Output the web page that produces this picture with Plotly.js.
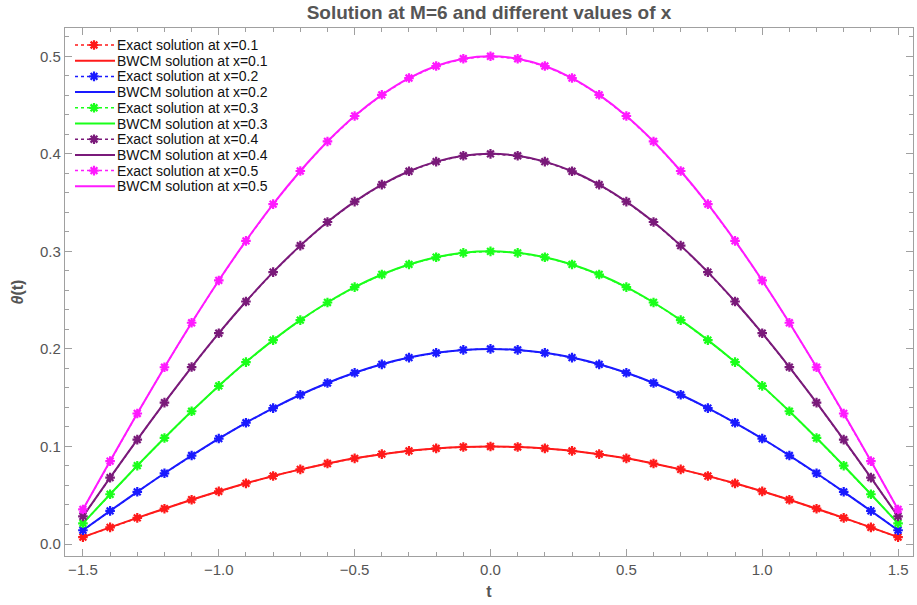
<!DOCTYPE html>
<html>
<head>
<meta charset="utf-8">
<script src="https://cdn.plot.ly/plotly-3.0.1.min.js"></script>
<style>
  html, body { margin: 0; padding: 0; background: #fff; }
  #chart { width: 917px; height: 605px; }
</style>
</head>
<body>
<div id="chart"></div>
<script>
// Time grid shared by all series
const tGrid = [-1.5,-1.4,-1.3,-1.2,-1.1,-1.0,-0.9,-0.8,-0.7,-0.6,-0.5,-0.4,-0.3,-0.2,-0.1,0.0,
               0.1,0.2,0.3,0.4,0.5,0.6,0.7,0.8,0.9,1.0,1.1,1.2,1.3,1.4,1.5];

// θ(t) values for each x
const thetaX01 = [0.0071,0.0170,0.0268,0.0362,0.0454,0.0540,0.0622,0.0697,0.0765,0.0825,0.0878,0.0921,0.0955,0.0980,0.0995,0.1000,
                  0.0995,0.0980,0.0955,0.0921,0.0878,0.0825,0.0765,0.0697,0.0622,0.0540,0.0454,0.0362,0.0268,0.0170,0.0071];
const thetaX02 = [0.0141,0.0340,0.0535,0.0725,0.0907,0.1081,0.1243,0.1393,0.1530,0.1651,0.1755,0.1842,0.1911,0.1960,0.1990,0.2000,
                  0.1990,0.1960,0.1911,0.1842,0.1755,0.1651,0.1530,0.1393,0.1243,0.1081,0.0907,0.0725,0.0535,0.0340,0.0141];
const thetaX03 = [0.0212,0.0510,0.0803,0.1087,0.1361,0.1621,0.1865,0.2090,0.2295,0.2476,0.2633,0.2763,0.2866,0.2940,0.2985,0.3000,
                  0.2985,0.2940,0.2866,0.2763,0.2633,0.2476,0.2295,0.2090,0.1865,0.1621,0.1361,0.1087,0.0803,0.0510,0.0212];
const thetaX04 = [0.0283,0.0680,0.1070,0.1449,0.1814,0.2161,0.2486,0.2787,0.3059,0.3301,0.3510,0.3684,0.3821,0.3920,0.3980,0.4000,
                  0.3980,0.3920,0.3821,0.3684,0.3510,0.3301,0.3059,0.2787,0.2486,0.2161,0.1814,0.1449,0.1070,0.0680,0.0283];
const thetaX05 = [0.0354,0.0850,0.1338,0.1812,0.2268,0.2702,0.3108,0.3484,0.3824,0.4127,0.4388,0.4605,0.4777,0.4900,0.4975,0.5000,
                  0.4975,0.4900,0.4777,0.4605,0.4388,0.4127,0.3824,0.3484,0.3108,0.2702,0.2268,0.1812,0.1338,0.0850,0.0354];

const xLabels = ['0.1', '0.2', '0.3', '0.4', '0.5'];
const seriesValues = [thetaX01, thetaX02, thetaX03, thetaX04, thetaX05];
const seriesColors = ['#ff1a1a', '#1a1aff', '#1aff1a', '#7a1a7a', '#ff1aff'];

const MARKER_SIZE = 8;

const traces = [];
seriesValues.forEach((vals, i) => {
  const c = seriesColors[i];
  traces.push({
    x: tGrid, y: vals, type: 'scatter', mode: 'lines',
    name: 'BWCM solution at x=' + xLabels[i],
    line: { color: c, width: 2, shape: 'spline', smoothing: 0.6 },
    hoverinfo: 'skip'
  });
  traces.push({
    x: tGrid, y: vals, type: 'scatter', mode: 'lines+markers',
    name: 'Exact solution at x=' + xLabels[i],
    line: { color: c, width: 1.5, dash: 'dot' },
    marker: { symbol: 'asterisk-open', size: MARKER_SIZE, color: c, line: { color: c, width: 2.2 } },
    hoverinfo: 'skip'
  });
});

// Compact key in the upper-left corner of the plot area (pixel layout -> paper coords)
const plotL = 65, plotR = 913, plotT = 28, plotB = 556;
const toPaperX = px => (px - plotL) / (plotR - plotL);
const toPaperY = py => (plotB - py) / (plotB - plotT);
const keyTop = 45, keyStep = 15.7, keyLineL = 75, keyLineR = 115, keyMarkX = 94, keyTextX = 116;

const rs = MARKER_SIZE / 2 * 1.2, rt = MARKER_SIZE / 2 * 0.85;
const starPath = `M0,${rs}V${-rs}M${rs},0H${-rs}M${rt},${rt}L${-rt},${-rt}M${rt},${-rt}L${-rt},${rt}`;

const shapes = [];
const annotations = [];
seriesValues.forEach((vals, i) => {
  const c = seriesColors[i];
  const yExact = keyTop + (2 * i) * keyStep;
  const yBwcm = keyTop + (2 * i + 1) * keyStep;
  shapes.push({
    type: 'line', xref: 'paper', yref: 'paper',
    x0: toPaperX(keyLineL), x1: toPaperX(keyLineR), y0: toPaperY(yExact), y1: toPaperY(yExact),
    line: { color: c, width: 1.5, dash: 'dot' }
  });
  shapes.push({
    type: 'path', xref: 'paper', yref: 'paper', xsizemode: 'pixel', ysizemode: 'pixel',
    xanchor: toPaperX(keyMarkX), yanchor: toPaperY(yExact), path: starPath,
    line: { color: c, width: 2.2 }
  });
  shapes.push({
    type: 'line', xref: 'paper', yref: 'paper',
    x0: toPaperX(keyLineL), x1: toPaperX(keyLineR), y0: toPaperY(yBwcm), y1: toPaperY(yBwcm),
    line: { color: c, width: 2 }
  });
  [['Exact solution at x=', yExact], ['BWCM solution at x=', yBwcm]].forEach(([lbl, yy]) => {
    annotations.push({
      text: lbl + xLabels[i], xref: 'paper', yref: 'paper',
      x: toPaperX(keyTextX), y: toPaperY(yy), xanchor: 'left', yanchor: 'middle',
      borderpad: 0, showarrow: false,
      font: { family: 'Liberation Sans, Arial, sans-serif', size: 14, color: '#111' }
    });
  });
});

const axisCommon = {
  showline: true, linecolor: '#a0a0a0', linewidth: 1.2, mirror: 'ticks',
  ticks: 'inside', ticklen: 7, tickwidth: 1, tickcolor: '#a0a0a0',
  showgrid: false, zeroline: false,
  tickfont: { family: 'Liberation Sans, Arial, sans-serif', size: 15, color: '#555' }
};

const layout = {
  width: 917, height: 605,
  paper_bgcolor: '#fff', plot_bgcolor: '#fff',
  margin: { l: plotL, r: 917 - plotR, t: plotT, b: 605 - plotB },
  showlegend: false,
  title: {
    text: '<b>Solution at M=6 and different values of x</b>',
    font: { family: 'Liberation Sans Narrow, Arial Narrow, Liberation Sans, sans-serif', size: 19, color: '#555' },
    xref: 'paper', x: 0.5, xanchor: 'center', y: 0.99, yanchor: 'top'
  },
  xaxis: Object.assign({}, axisCommon, {
    range: [-1.566, 1.555],
    tickvals: [-1.5, -1.0, -0.5, 0.0, 0.5, 1.0, 1.5],
    ticktext: ['\u22121.5', '\u22121.0', '\u22120.5', '0.0', '0.5', '1.0', '1.5'],
    minor: { dtick: 0.1, ticks: 'inside', ticklen: 4, tickcolor: '#a0a0a0', showgrid: false },
    title: { text: '<b>t</b>', font: { family: 'Liberation Sans, Arial, sans-serif', size: 16, color: '#555' }, standoff: 8 }
  }),
  yaxis: Object.assign({}, axisCommon, {
    range: [-0.0123, 0.529],
    tickvals: [0, 0.1, 0.2, 0.3, 0.4, 0.5],
    ticktext: ['0.0', '0.1', '0.2', '0.3', '0.4', '0.5'],
    minor: { dtick: 0.02, ticks: 'inside', ticklen: 4, tickcolor: '#a0a0a0', showgrid: false },
    title: { text: '<b><i>θ</i>(t)</b>', font: { family: 'Liberation Sans, Arial, sans-serif', size: 16, color: '#555' }, standoff: 12 }
  }),
  shapes: shapes,
  annotations: annotations
};

Plotly.newPlot('chart', traces, layout, { displayModeBar: false, staticPlot: true });
</script>
</body>
</html>
